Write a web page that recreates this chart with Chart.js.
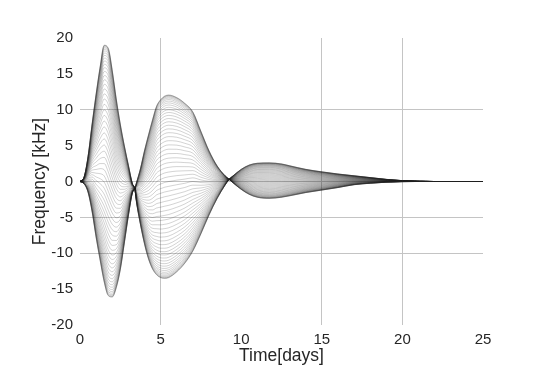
<!DOCTYPE html>
<html>
<head>
<meta charset="utf-8">
<script src="https://cdn.jsdelivr.net/npm/chart.js@4.4.1/dist/chart.umd.min.js"></script>
<style>
  html, body { margin: 0; padding: 0; background: #ffffff; }
  #wrap { width: 545px; height: 382px; }
</style>
</head>
<body>
<div id="wrap"><canvas id="myChart" width="545" height="382"></canvas></div>
<script>
'use strict';
//////////////// data

let times = [0, 0.25, 0.5, 0.75, 1, 1.25, 1.5, 1.75, 2, 2.25, 2.5, 2.75, 3, 3.25, 3.4,
  3.5, 3.75, 4, 4.25, 4.5, 4.75, 5, 5.25, 5.5, 6, 6.5, 7, 7.5, 8, 8.5, 9, 9.25,
  9.5, 10, 10.5, 11, 11.75, 12.5, 13, 14, 15, 16, 17, 18, 19, 20, 21, 22, 25];

// outer curve that peaks at +19 first
let edgeUp = [0, 0.6, 3.5, 8.0, 12.2, 16.0, 19.0, 18.6, 15.5, 11.5, 8.0, 5.0, 2.3, -0.3, -1.0,
  -2.8, -6.0, -8.7, -10.8, -12.2, -13.0, -13.4, -13.5, -13.4, -12.6, -11.4, -9.7, -7.3, -4.7, -2.4, -0.5, 0.3,
  0.8, 1.7, 2.3, 2.55, 2.6, 2.45, 2.2, 1.7, 1.35, 1.05, 0.8, 0.55, 0.3, 0.12, 0.03, 0, 0];

// outer curve that dips to -16 first
let edgeDown = [0, -0.3, -1.5, -4.2, -7.8, -11.0, -14.0, -15.9, -16.1, -14.8, -12.3, -8.6, -4.8, -1.6, -1.0,
  -0.2, 1.8, 4.3, 6.5, 8.6, 10.5, 11.4, 11.9, 12.05, 11.7, 10.9, 9.7, 7.0, 4.3, 2.2, 0.8, 0.3,
  -0.2, -1.1, -1.8, -2.2, -2.35, -2.2, -2.0, -1.55, -1.2, -0.85, -0.45, -0.25, -0.1, -0.02, 0, 0, 0];

// where each line sits between the two outer curves (0 = edgeDown, 1 = edgeUp)
let lineMix = [0, 0.0007, 0.0027, 0.0062, 0.0109, 0.017, 0.0245, 0.0332, 0.0432, 0.0545,
  0.067, 0.0807, 0.0955, 0.1114, 0.1284, 0.1464, 0.1654, 0.1853, 0.2061, 0.2277,
  0.25, 0.273, 0.2966, 0.3208, 0.3455, 0.3706, 0.396, 0.4218, 0.4477, 0.4738,
  0.5, 0.5262, 0.5523, 0.5782, 0.604, 0.6294, 0.6545, 0.6792, 0.7034, 0.727,
  0.75, 0.7723, 0.7939, 0.8147, 0.8346, 0.8536, 0.8716, 0.8886, 0.9045, 0.9193,
  0.933, 0.9455, 0.9568, 0.9668, 0.9755, 0.983, 0.9891, 0.9938, 0.9973, 0.9993, 1];

let xTicks = [0, 5, 10, 15, 20, 25];
let yTicks = [-20, -15, -10, -5, 0, 5, 10, 15, 20];

let xGridAt = [5, 15, 20];
let yGridAt = [10, 0, -5, -10];

//////////////// datasets

let allSets = [];
for (let i = 0; i < lineMix.length; i++) {
  let w = lineMix[i];
  let pts = [];
  for (let j = 0; j < times.length; j++) {
    pts.push({ x: times[j], y: w * edgeUp[j] + (1 - w) * edgeDown[j] });
  }
  allSets.push({
    data: pts,
    borderColor: 'rgba(30, 30, 30, 0.36)',
    borderWidth: 0.55,
    pointRadius: 0,
    cubicInterpolationMode: 'monotone',
    fill: false
  });
}

//////////////// chart

let tickFont = { family: 'Liberation Sans, Arial, sans-serif', size: 15 };
let titleFont = { family: 'Liberation Sans, Arial, sans-serif', size: 17.5 };
let textColor = '#262626';
let gridColor = '#c4c4c4';

let ctx = document.getElementById('myChart').getContext('2d');
let myChart = new Chart(ctx, {
  type: 'line',
  data: { datasets: allSets },
  options: {
    responsive: false,
    animation: false,
    events: [],
    layout: { padding: { top: 38, right: 62, left: 0, bottom: 0 } },
    plugins: {
      legend: { display: false },
      tooltip: { enabled: false }
    },
    scales: {
      x: {
        type: 'linear',
        min: 0,
        max: 25,
        afterBuildTicks: (axis) => { axis.ticks = xTicks.map(v => ({ value: v })); },
        afterFit: (axis) => { axis.height = 57; },
        border: { display: false },
        grid: {
          drawTicks: false,
          lineWidth: 1,
          color: (c) => xGridAt.includes(c.tick && c.tick.value) ? gridColor : 'rgba(0,0,0,0)'
        },
        ticks: { color: textColor, font: tickFont, padding: 6, maxRotation: 0 },
        title: { display: true, text: 'Time[days]', color: textColor, font: titleFont, padding: { top: 0, bottom: 15 } }
      },
      y: {
        type: 'linear',
        min: -20,
        max: 20,
        afterBuildTicks: (axis) => { axis.ticks = yTicks.map(v => ({ value: v })); },
        afterFit: (axis) => { axis.width = 80; },
        border: { display: false },
        grid: {
          drawTicks: false,
          lineWidth: 1,
          color: (c) => yGridAt.includes(c.tick && c.tick.value) ? gridColor : 'rgba(0,0,0,0)'
        },
        ticks: { color: textColor, font: tickFont, padding: 7 },
        title: { display: true, text: 'Frequency [kHz]', color: textColor, font: titleFont, padding: { top: 30, bottom: 0 } }
      }
    }
  }
});
</script>
</body>
</html>
